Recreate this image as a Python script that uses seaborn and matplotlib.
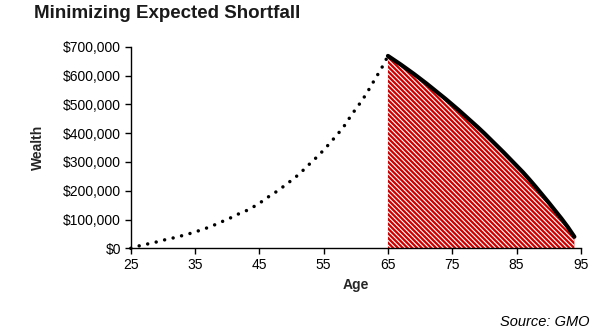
import matplotlib
matplotlib.use("Agg")
import matplotlib.pyplot as plt
import seaborn as sns
import pandas as pd

# Wealth accumulation while working (ages 25-65), in dollars
accum_age = list(range(25, 66))
accum_wealth = [
    0, 7000, 12000, 17000, 22000, 28000, 33000, 38000, 44000, 50000,
    57000, 64000, 72000, 81000, 91000, 100000, 111000, 122000, 131000, 143000,
    156000, 173000, 187000, 202000, 219000, 236000, 254000, 275000, 297000, 318000,
    341000, 366000, 392000, 418000, 452000, 484000, 514000, 550000, 588000, 625000,
    668000,
]

# Wealth drawdown in retirement (ages 65-94), in dollars
decum_age = list(range(65, 95))
decum_wealth = [
    668000, 653000, 638000, 622000, 606000, 589000, 572000, 554000, 536000, 518000,
    499000, 480000, 460000, 440000, 420000, 399000, 377000, 355000, 333000, 310000,
    287000, 264000, 239000, 213000, 186000, 159000, 131000, 103000, 73000, 40000,
]

x_ticks = [25, 35, 45, 55, 65, 75, 85, 95]
y_ticks = [0, 100000, 200000, 300000, 400000, 500000, 600000, 700000]

accum = pd.DataFrame({"Age": accum_age, "Wealth": accum_wealth})
decum = pd.DataFrame({"Age": decum_age, "Wealth": decum_wealth})

sns.set_style("ticks")
plt.rcParams["font.family"] = ["Liberation Sans", "DejaVu Sans"]
plt.rcParams["hatch.color"] = "white"
plt.rcParams["hatch.linewidth"] = 0.8

fig = plt.figure(figsize=(6.0, 3.36), dpi=100)
ax = fig.add_axes([0.218, 0.261, 0.750, 0.600])

# shaded retirement region under the drawdown curve
ax.fill_between(decum["Age"], decum["Wealth"], 0, facecolor="#cc0000",
                edgecolor="white", hatch="\\" * 7, linewidth=0, zorder=1)

sns.lineplot(data=accum, x="Age", y="Wealth", ax=ax, color="black",
             linewidth=2.5, linestyle=(0, (0.01, 2.5)),
             dash_capstyle="round", zorder=3, clip_on=False)
sns.lineplot(data=decum, x="Age", y="Wealth", ax=ax, color="black",
             linewidth=3.0, solid_capstyle="round", zorder=4, clip_on=False)

ax.set_xlim(25, 95)
ax.set_ylim(0, 700000)
ax.set_xticks(x_ticks)
ax.set_yticks(y_ticks)
ax.set_yticklabels(["${:,.0f}".format(v) for v in y_ticks])

ax.tick_params(axis="both", labelsize=10, length=4, width=1, color="black",
               labelcolor="black", pad=3)
for side in ("left", "bottom"):
    ax.spines[side].set_color("black")
    ax.spines[side].set_linewidth(1)
sns.despine(ax=ax)

ax.set_xlabel("Age", fontsize=10, fontweight="bold", labelpad=4)
ax.set_ylabel("Wealth", fontsize=10, fontweight="bold", labelpad=13)

fig.text(34 / 600, 1 - 18.5 / 336, "Minimizing Expected Shortfall",
         fontsize=13.5, fontweight="bold", ha="left", va="baseline", color="#1a1a1a")
fig.text(590 / 600, 1 - 321.7 / 336, "Source: GMO", fontsize=10.5,
         fontstyle="italic", ha="right", va="center", color="black")

fig.savefig("out.png", dpi=100)
